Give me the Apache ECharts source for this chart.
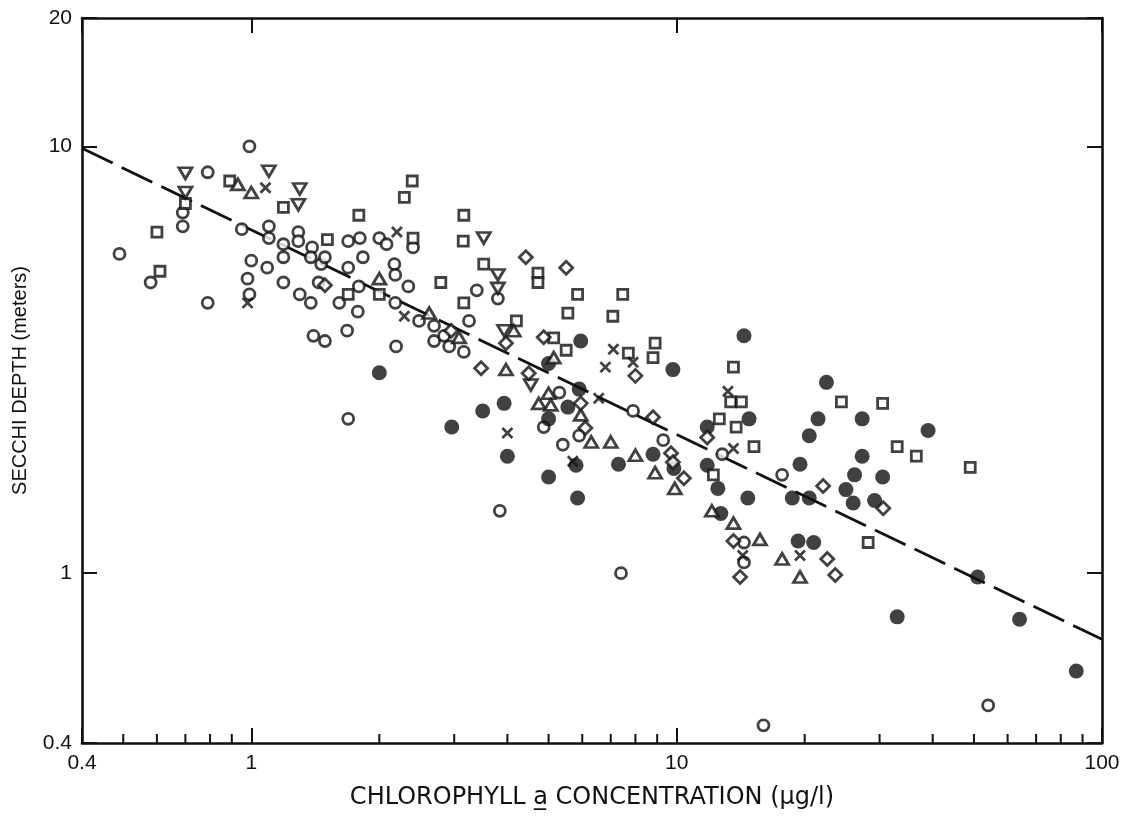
<!DOCTYPE html>
<html><head><meta charset="utf-8">
<script src="https://cdn.jsdelivr.net/npm/echarts@6/dist/echarts.min.js"></script>
<style>html,body{margin:0;padding:0;background:#fff}#c{width:1125px;height:821px}</style>
</head><body><div id="c"></div>
<script>
// ---- data (chlorophyll a, µg/l ; Secchi depth, m) ----
const openCircles = [
[0.99,10.0],[0.79,8.7],[0.69,7.0],[0.69,6.5],[0.95,6.4],[1.10,6.5],[1.10,6.1],[1.29,6.3],[1.29,6.0],[1.19,5.9],
[1.19,5.5],[1.39,5.8],[1.38,5.5],[1.46,5.3],[0.49,5.6],[0.58,4.8],[1.0,5.4],[1.09,5.2],[0.98,4.9],[0.99,4.5],
[0.79,4.3],[1.19,4.8],[1.30,4.5],[1.38,4.3],[1.44,4.8],[1.69,6.0],[1.80,6.1],[2.0,6.1],[2.08,5.9],[2.4,5.8],
[1.49,5.5],[1.83,5.5],[1.69,5.2],[2.17,5.3],[2.18,5.0],[1.79,4.7],[2.34,4.7],[2.18,4.3],[1.61,4.3],[1.78,4.1],
[2.48,3.9],[2.69,3.8],[3.25,3.9],[1.68,3.7],[1.40,3.6],[1.49,3.5],[2.19,3.4],[2.69,3.5],[2.84,3.6],[2.92,3.4],
[3.16,3.3],[3.39,4.6],[3.8,4.4],[1.69,2.3],[3.84,1.4],[5.3,2.65],[4.87,2.2],[5.9,2.1],[5.4,2.0],[7.9,2.4],
[9.3,2.05],[7.4,1.0],[12.8,1.9],[14.4,1.18],[14.4,1.06],[17.7,1.7],[54,0.49],[16,0.44]
];
const filledCircles = [
[2.0,2.95],[2.96,2.2],[3.5,2.4],[3.93,2.5],[4.0,1.88],[5.0,3.1],[5.95,3.5],[5.9,2.7],[5.55,2.45],[5.0,2.3],
[5.8,1.79],[5.0,1.68],[5.85,1.5],[7.3,1.8],[8.8,1.9],[9.8,3.0],[9.85,1.76],[11.8,2.2],[11.8,1.79],[12.5,1.58],
[12.7,1.38],[14.4,3.6],[14.8,2.3],[14.7,1.5],[22.5,2.8],[21.5,2.3],[20.5,2.1],[19.5,1.8],[18.7,1.5],[20.5,1.5],
[27.3,2.3],[27.3,1.88],[26.2,1.7],[30.5,1.68],[25,1.57],[26,1.46],[29.2,1.48],[39,2.16],[19.3,1.19],[21,1.18],
[33,0.79],[51,0.98],[64,0.78],[87,0.59]
];
const openSquares = [
[0.70,7.35],[0.60,6.3],[0.61,5.1],[0.89,8.3],[1.19,7.2],[2.39,8.3],[2.29,7.6],[1.79,6.9],[3.16,6.9],[1.51,6.05],
[2.4,6.1],[3.15,6.0],[3.52,5.3],[2.79,4.8],[1.69,4.5],[2.0,4.5],[3.16,4.3],[4.2,3.9],[4.72,5.05],[4.72,4.8],
[5.85,4.5],[7.47,4.5],[5.55,4.07],[7.08,4.0],[5.14,3.56],[5.5,3.33],[7.7,3.28],[8.9,3.46],[8.8,3.2],[12.6,2.3],
[13.6,3.04],[13.4,2.52],[14.2,2.52],[13.8,2.2],[15.2,1.98],[12.2,1.7],[24.4,2.52],[30.5,2.5],[33,1.98],[36.6,1.88],
[49,1.77],[28.2,1.18]
];
const openTriangles = [
[0.93,8.15],[1.0,7.8],[2.0,4.9],[2.62,4.07],[4.14,3.7],[3.08,3.57],[3.97,3.0],[5.14,3.2],[5.0,2.64],[4.74,2.5],
[5.06,2.48],[5.95,2.35],[6.3,2.03],[7.0,2.03],[8.0,1.89],[8.9,1.72],[9.9,1.58],[12.1,1.4],[13.6,1.31],[15.7,1.2],
[17.7,1.08],[19.5,0.98]
];
const invTriangles = [
[0.70,8.65],[0.70,7.8],[1.10,8.75],[1.30,7.95],[1.29,7.3],[3.52,6.1],[3.8,5.0],[3.8,4.65],[3.93,3.7],[4.54,2.76]
];
const openDiamonds = [
[1.49,4.73],[4.42,5.5],[5.5,5.2],[4.87,3.57],[3.97,3.46],[3.47,3.02],[2.95,3.7],[4.49,2.94],[8.0,2.9],[8.8,2.32],
[5.95,2.5],[6.1,2.19],[9.7,1.91],[9.8,1.82],[10.4,1.67],[11.8,2.08],[13.6,1.19],[14.1,0.98],[22.1,1.6],[30.6,1.42],
[22.6,1.08],[23.6,0.99]
];
const crosses = [
[1.08,8.0],[0.98,4.3],[2.2,6.3],[2.29,4.0],[4.0,2.13],[7.1,3.35],[6.8,3.04],[7.9,3.12],[6.56,2.57],[5.7,1.83],
[13.2,2.67],[13.6,1.96],[14.3,1.1],[19.5,1.1]
];
const fitLine = [[0.4, 9.9], [100, 0.70]];
const xMinorTicks = [0.5,0.6,0.7,0.8,0.9,2,3,4,5,6,7,8,9,20,30,40,50,60,70,80,90];
const xRange = [0.4, 100];
const yRange = [0.4, 20];
const xTitle = 'CHLOROPHYLL a\u0332 CONCENTRATION (\u03bcg/l)';
const yTitle = 'SECCHI DEPTH (meters)';

// ---- chart ----
const INK = '#111';
const FONT = "'Liberation Sans', Arial, sans-serif";
const chart = echarts.init(document.getElementById('c'));

function logAxis(range, pos, labels, extra) {
  return Object.assign({
    type: 'log', logBase: 10, min: range[0], max: range[1], position: pos,
    axisLine: { show: true, lineStyle: { color: INK, width: 2.6 } },
    axisTick: { show: true, inside: true, length: 15, lineStyle: { color: INK, width: 2 } },
    axisLabel: { show: labels, color: INK, fontSize: 21, fontFamily: FONT, margin: 10,
                 showMinLabel: true, showMaxLabel: true },
    splitLine: { show: false }, minorTick: { show: false }
  }, extra || {});
}

const openStyle = { color: '#fff', borderColor: INK, borderWidth: 2.8 };
function scatter(data, symbol, size, style, extra) {
  return Object.assign({
    type: 'scatter', data: data, symbol: symbol, symbolSize: size,
    itemStyle: style, xAxisIndex: 0, yAxisIndex: 0, silent: true, z: 3
  }, extra || {});
}

chart.setOption({
  animation: false,
  backgroundColor: '#fff',
  grid: { left: 82, right: 23, top: 18, bottom: 78, containLabel: false },
  xAxis: [
    logAxis(xRange, 'bottom', true, {
      name: xTitle, nameLocation: 'middle', nameGap: 43,
      nameTextStyle: { color: INK, fontSize: 24, fontFamily: "'DejaVu Sans', 'Liberation Sans', sans-serif" }
    }),
    logAxis(xRange, 'top', false)
  ],
  yAxis: [
    logAxis(yRange, 'left', true, {
      name: yTitle, nameLocation: 'middle', nameGap: 52,
      nameTextStyle: { color: INK, fontSize: 20, fontFamily: FONT }
    }),
    logAxis(yRange, 'right', false)
  ],
  series: [
    {
      type: 'custom', xAxisIndex: 0, yAxisIndex: 0, silent: true, z: 5, clip: false,
      data: xMinorTicks.map(v => [v, yRange[0]]),
      renderItem: function (params, api) {
        const p = api.coord([api.value(0), api.value(1)]);
        return { type: 'line', shape: { x1: p[0], y1: p[1], x2: p[0], y2: p[1] - 9 },
                 style: { stroke: INK, lineWidth: 2 } };
      }
    },
    {
      type: 'line', data: fitLine, showSymbol: false, symbol: 'none', silent: true, z: 2,
      lineStyle: { color: INK, width: 2.8, type: [34, 10] }
    },
    scatter(openCircles, 'circle', 11, openStyle),
    scatter(filledCircles, 'circle', 15, { color: INK, borderWidth: 0 }),
    scatter(openSquares, 'rect', 10, openStyle),
    scatter(openTriangles, 'triangle', [13, 11], openStyle),
    scatter(invTriangles, 'triangle', [13, 11], openStyle, { symbolRotate: 180 }),
    scatter(openDiamonds, 'diamond', 13, openStyle),
    scatter(crosses, 'path://M0,0L10,10M10,0L0,10', 10,
            { color: 'none', borderColor: INK, borderWidth: 2.8 })
  ]
});
</script></body></html>
